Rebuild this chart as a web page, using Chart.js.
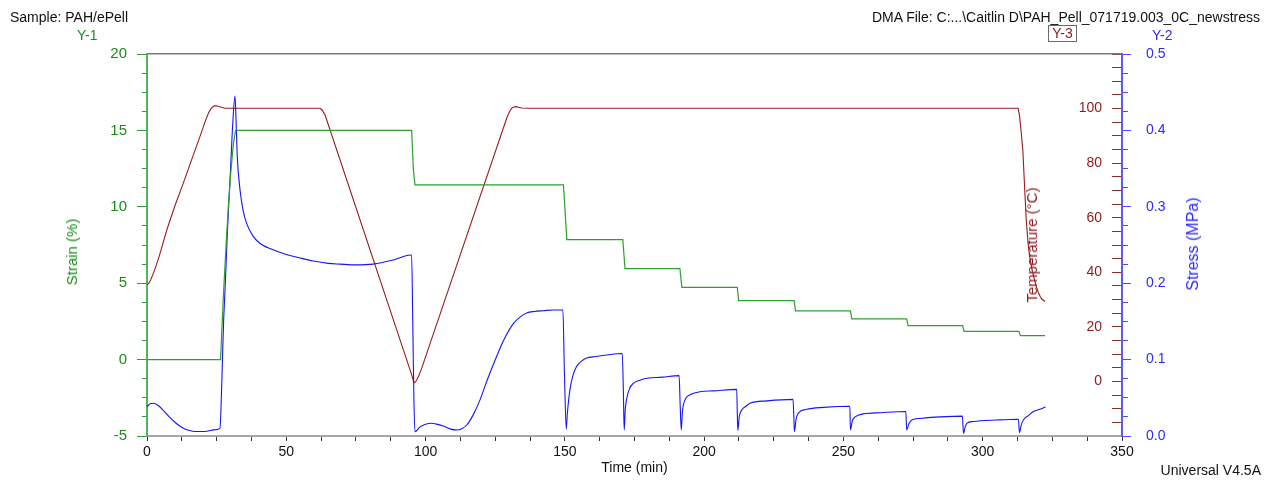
<!DOCTYPE html>
<html>
<head>
<meta charset="utf-8">
<script src="https://cdn.jsdelivr.net/npm/chart.js@4.4.1/dist/chart.umd.min.js"></script>
<style>
  html, body { margin: 0; padding: 0; background: #fff; }
  #wrap { position: relative; width: 1272px; height: 480px; overflow: hidden; font-family: "Liberation Sans", Arial, sans-serif; }
  canvas { position: absolute; left: 0; top: 0; }
  .t { position: absolute; white-space: nowrap; font-size: 14px; line-height: 16px; }
  .rot { position: absolute; white-space: nowrap; transform: translate(-50%, -50%) rotate(-90deg); line-height: 18px; }
</style>
</head>
<body>
<div id="wrap">
  <canvas id="c" width="1272" height="480"></canvas>
  <div class="t" style="left:10px; top:9px; color:#111;">Sample: PAH/ePell</div>
  <div class="t" style="right:12px; top:9px; color:#111;">DMA File: C:...\Caitlin D\PAH_Pell_071719.003_0C_newstress</div>
  <div class="t" style="left:77px; top:27px; color:#1a8c1a;">Y-1</div>
  <div class="t" style="left:1152px; top:27px; color:#2a2aff;">Y-2</div>
  <div class="t" style="left:1048px; top:25px; width:27px; height:15px; line-height:15px; text-align:center; border:1px solid #6a6a6a; color:#8b1a1a;">Y-3</div>
  <div class="t" style="right:11px; top:462px; color:#111;">Universal V4.5A</div>
  <div class="rot" style="left:72px; top:252px; color:#1a8c1a; font-size:15px;">Strain (%)</div>
  <div class="rot" style="left:1032px; top:245px; color:#8b1a1a; font-size:15px;">Temperature (°C)</div>
  <div class="rot" style="left:1193px; top:244px; color:#2a2aff; font-size:16px;">Stress (MPa)</div>
</div>
<script>
// ---- data ----
const strainT = [0, 26.4, 26.6, 27.4, 28.3, 29.2, 30.1, 31.0, 31.8, 95.0, 95.6, 96.2, 149.5, 150.7, 170.8, 171.6, 191.3, 192.0, 211.9, 212.4, 232.3, 232.8, 252.5, 253.0, 272.7, 273.2, 292.8, 293.3, 313.0, 313.5, 322.4];
const strainV = [0, 0, 0.8, 4.1, 7.2, 10.0, 12.3, 14.1, 15.0, 15.0, 12.5, 11.43, 11.43, 7.85, 7.85, 5.96, 5.96, 4.73, 4.73, 3.86, 3.86, 3.19, 3.19, 2.66, 2.66, 2.23, 2.23, 1.85, 1.85, 1.57, 1.57];

const tempT = [0, 0.6, 1.3, 2.3, 3.4, 4.5, 7.1, 10, 13, 16, 19, 21, 22, 22.8, 23.5, 24.2, 25, 26, 28, 62.1, 62.9, 63.9, 95.0, 95.5, 95.9, 96.4, 96.9, 97.6, 98.5, 129.3, 130.3, 131.0, 131.7, 132.5, 133.3, 134.5, 136.8, 312.7, 313.2, 313.8, 314.4, 315.0, 315.6, 316.2, 316.8, 317.7, 318.6, 319.3, 320.0, 320.6, 321.2, 322.4];
const tempV = [35.4, 35.9, 37.2, 39.7, 42.8, 46.3, 55.5, 64.3, 72.6, 81.2, 89.7, 95.6, 98.2, 99.7, 100.6, 101, 101, 100.7, 100.1, 100.1, 99.4, 97.7, 2.5, 0.6, -0.5, -0.2, 0.7, 2.2, 4.5, 97.0, 99.2, 100.2, 100.6, 100.7, 100.5, 100.2, 100.1, 100.1, 97.5, 91.5, 84.8, 72, 59.5, 51.5, 46, 41, 37.2, 34.6, 32.5, 31.2, 30.2, 29.3];

const stressT = [0, 1, 2.3, 4, 6, 8, 10, 12, 14, 16, 18, 20, 22, 24, 26.2, 26.6, 27.0, 27.5, 28.0, 28.9, 30.0, 30.8, 31.6, 32.0, 32.4, 33.4, 34.5, 35.8, 38, 40.6, 45, 48.9, 55, 59.7, 65, 69.3, 75, 81.2, 88, 94.7, 95.0, 95.4, 95.8, 96.2,
  98, 100, 102.2, 104, 106.4, 109, 111.2, 113, 114.8, 117, 119.5, 122, 125.5, 128, 131.5, 134, 136.3, 139, 142.3, 146, 149.3, 149.8, 150.5,
  150.9, 151.3, 151.8, 152.8, 154.2, 156, 157.8, 161, 165, 170.6, 171.0, 171.3,
  171.7, 172.1, 173.2, 174.6, 177, 179.4, 185, 191.0, 191.4, 191.8,
  192.2, 192.5, 193.5, 194.9, 198.5, 203.3, 211.7, 211.9, 212.1,
  212.6, 213.5, 215, 216.5, 222.5, 231.9, 232.2, 232.4,
  233.0, 233.8, 236.8, 242.8, 252.3, 252.5,
  253.2, 254.2, 257.2, 263.2, 272.4, 272.7,
  273.5, 274.5, 277.5, 284.7, 292.7, 293.1,
  293.7, 294.3, 296.6, 305, 312.8, 313.2,
  313.8, 314.6, 316.5, 318.2, 320.5, 322.6];
const stressV = [0.038, 0.042, 0.0428, 0.040, 0.033, 0.025, 0.018, 0.0125, 0.0085, 0.0065, 0.0058, 0.0058, 0.0065, 0.008, 0.010, 0.04, 0.09, 0.15, 0.19, 0.27, 0.35, 0.41, 0.445, 0.41, 0.366, 0.322, 0.295, 0.278, 0.262, 0.252, 0.244, 0.239, 0.233, 0.229, 0.226, 0.225, 0.224, 0.225, 0.230, 0.237, 0.237, 0.15, 0.05, 0.0056,
  0.012, 0.0155, 0.0166, 0.0155, 0.013, 0.009, 0.0079, 0.0095, 0.0144, 0.027, 0.047, 0.072, 0.104, 0.125, 0.147, 0.156, 0.161, 0.163, 0.164, 0.165, 0.165, 0.09, 0.0088,
  0.03, 0.045, 0.060, 0.078, 0.091, 0.098, 0.102, 0.104, 0.106, 0.108, 0.06, 0.0079,
  0.035, 0.047, 0.062, 0.069, 0.073, 0.0755, 0.077, 0.079, 0.04, 0.0079,
  0.032, 0.040, 0.050, 0.054, 0.058, 0.059, 0.061, 0.03, 0.007,
  0.025, 0.034, 0.039, 0.043, 0.046, 0.048, 0.025, 0.0056,
  0.022, 0.030, 0.035, 0.0375, 0.039, 0.0079,
  0.020, 0.025, 0.029, 0.0305, 0.032, 0.0079,
  0.016, 0.021, 0.023, 0.025, 0.026, 0.0035,
  0.012, 0.0166, 0.019, 0.021, 0.022, 0.0043,
  0.014, 0.021, 0.027, 0.032, 0.035, 0.038];

const timeTickLabels = [0, 50, 100, 150, 200, 250, 300, 350];
const strainTickLabels = [-5, 0, 5, 10, 15, 20];
const stressTickLabels = [0.0, 0.1, 0.2, 0.3, 0.4, 0.5];
const tempTickLabels = [0, 20, 40, 60, 80, 100];

// ---- build ----
const pts = (xs, ys) => xs.map((x, i) => ({x: x, y: ys[i]}));
const near = (v, list) => list.find(l => Math.abs(v - l) < 1e-6);

Chart.defaults.font.family = '"Liberation Sans", Arial, sans-serif';
Chart.defaults.font.size = 14;

const COL_STRAIN = '#2e9e2e';
const COL_STRESS = '#1414ff';
const COL_TEMP = '#9a1c1c';

new Chart(document.getElementById('c'), {
  type: 'scatter',
  data: {
    datasets: [
      { label: 'Strain', data: pts(strainT, strainV), yAxisID: 'y1', borderColor: COL_STRAIN, backgroundColor: COL_STRAIN, showLine: true, pointRadius: 0, borderWidth: 1.2, tension: 0 },
      { label: 'Stress', data: pts(stressT, stressV), yAxisID: 'y2', borderColor: COL_STRESS, backgroundColor: COL_STRESS, showLine: true, pointRadius: 0, borderWidth: 1.1, cubicInterpolationMode: 'monotone' },
      { label: 'Temperature', data: pts(tempT, tempV), yAxisID: 'y3', borderColor: COL_TEMP, backgroundColor: COL_TEMP, showLine: true, pointRadius: 0, borderWidth: 1.1, tension: 0 }
    ]
  },
  options: {
    responsive: false,
    animation: false,
    devicePixelRatio: 1,
    layout: { padding: { top: 54, left: 0, right: 0, bottom: 0 } },
    plugins: { legend: { display: false }, tooltip: { enabled: false } },
    scales: {
      x: {
        type: 'linear', position: 'bottom', min: 0, max: 350,
        ticks: { stepSize: 12.5, autoSkip: false, maxRotation: 0, color: '#111', padding: 3,
          callback: v => { const l = near(v, timeTickLabels); return l === undefined ? '' : String(l); } },
        grid: { drawOnChartArea: false, tickLength: 5, tickColor: '#333', color: '#333' },
        border: { color: '#a6a6a6', width: 2 },
        title: { display: true, text: 'Time (min)', color: '#111', padding: { top: 0, bottom: 3 } },
        afterFit: s => { s.height = 44; }
      },
      xTop: {
        type: 'linear', position: 'top', min: 0, max: 350,
        ticks: { display: false },
        grid: { drawOnChartArea: false, drawTicks: false },
        border: { color: '#7a7a7a', width: 1.5 },
        afterFit: s => { s.height = 0; }
      },
      y1: {
        type: 'linear', position: 'left', min: -5, max: 20,
        ticks: { stepSize: 1.25, autoSkip: false, color: '#1a8c1a', font: { size: 15 }, padding: 10,
          callback: v => { const l = near(v, strainTickLabels); return l === undefined ? '' : String(l); } },
        grid: { drawOnChartArea: false, tickLength: 10, tickColor: COL_STRAIN, tickWidth: 1,
          tickBorderDash: c => near(c.tick.value, strainTickLabels) === undefined ? [5, 5] : [],
          tickBorderDashOffset: c => near(c.tick.value, strainTickLabels) === undefined ? 5 : 0 },
        border: { color: '#52b452', width: 2 },
        afterFit: s => { s.width = 147; }
      },
      y3: {
        type: 'linear', position: 'right', weight: 0, min: -20, max: 120,
        ticks: { stepSize: 5, autoSkip: false, mirror: true, padding: -20, color: '#8b1a1a',
          callback: v => { const l = near(v, tempTickLabels); return l === undefined ? '' : String(l); } },
        grid: { drawOnChartArea: false, tickLength: -10, tickColor: '#8f2a2a', tickWidth: 1 },
        border: { display: false },
        afterFit: s => { s.width = 0; }
      },
      y2: {
        type: 'linear', position: 'right', weight: 1, min: 0, max: 0.5,
        ticks: { stepSize: 0.025, autoSkip: false, color: '#2a2aff', padding: 15,
          callback: v => { const l = near(v, stressTickLabels); return l === undefined ? '' : l.toFixed(1); } },
        grid: { drawOnChartArea: false, tickLength: 9, tickColor: '#4a4aff', tickWidth: 1,
          tickBorderDash: c => near(c.tick.value, stressTickLabels) === undefined ? [5, 50] : [],
          tickBorderDashOffset: 0 },
        border: { color: '#5a5aff', width: 2 },
        afterFit: s => { s.width = 150; }
      }
    }
  }
});
</script>
</body>
</html>
